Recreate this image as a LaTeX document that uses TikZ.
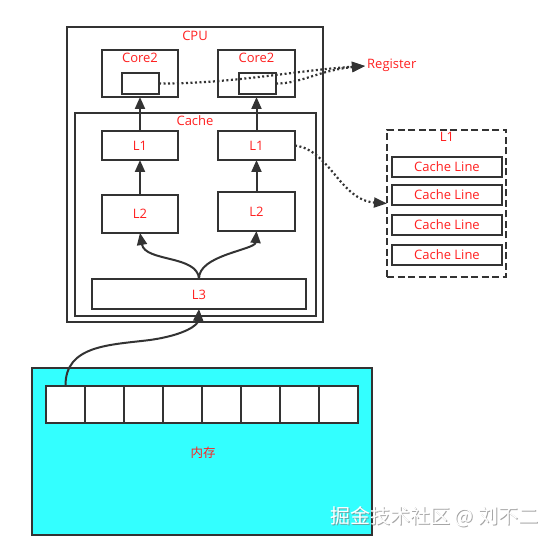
\documentclass[tikz,border=0pt]{standalone}
\usepackage{fontspec}
\setmainfont{Open Sans}
\newfontfamily\cjk{Noto Sans CJK SC}
\usetikzlibrary{arrows.meta}
\definecolor{txtred}{HTML}{FF2020}
\definecolor{memcyan}{HTML}{33FFFF}
\definecolor{edge}{HTML}{333333}
\begin{document}
\begin{tikzpicture}[x=1pt,y=-1pt,
  box/.style={draw=edge,line width=1.8pt,fill=white,inner sep=0pt,outer sep=0pt},
  lbl/.style={text=txtred,font=\fontsize{13}{15}\selectfont,inner sep=0pt},
  arr/.style={draw=edge,line width=2pt,-{Triangle[length=12pt,width=10pt]}},
  dotarr/.style={draw=edge,line width=2.2pt,dash pattern=on 2pt off 2.5pt,-{Triangle[length=13pt,width=10pt]}},
]
\useasboundingbox (0,0) rectangle (560,545);
% CPU
\node[box,minimum width=256pt,minimum height=295pt] (cpu) at (195,174.5) {};
\node[lbl] (cputxt) at (195,36) {CPU};
% Cores
\node[box,minimum width=76pt,minimum height=47pt] (core1) at (140,73.5) {};
\node[lbl] (core1txt) at (140,58) {Core2};
\node[box,minimum width=77pt,minimum height=47pt] (core2) at (256.5,73.5) {};
\node[lbl] (core2txt) at (256.5,58) {Core2};
\node[box,minimum width=37pt,minimum height=21pt] (reg1) at (140.5,83.5) {};
\node[box,minimum width=37pt,minimum height=21pt] (reg2) at (257.5,83.5) {};
% Cache
\node[box,minimum width=241pt,minimum height=203pt] (cache) at (195.5,214.5) {};
\node[lbl] (cachetxt) at (195,121) {Cache};
\node[box,minimum width=76pt,minimum height=29pt] (l1a) at (140,145.5) {};
\node[lbl] (l1atxt) at (140,146) {L1};
\node[box,minimum width=77pt,minimum height=29pt] (l1b) at (256.5,145.5) {};
\node[lbl] (l1btxt) at (256.5,146) {L1};
\node[box,minimum width=76pt,minimum height=38pt] (l2a) at (140,214) {};
\node[lbl] (l2atxt) at (140,214) {L2};
\node[box,minimum width=77pt,minimum height=39pt] (l2b) at (256.5,211.5) {};
\node[lbl] (l2btxt) at (256.5,211.5) {L2};
\node[box,minimum width=214pt,minimum height=30pt] (l3) at (199,294) {};
\node[lbl] (l3txt) at (199,294.5) {L3};
% arrows inside
\draw[arr] (l1a.north) -- (core1.south);
\draw[arr] (l1b.north) -- (core2.south);
\draw[arr] (l2a.north) -- (l1a.south);
\draw[arr] (l2b.north) -- (l1b.south);
\draw[arr] (l3.north) .. controls (198,255) and (145,262) .. (l2a.south);
\draw[arr] (l3.north) .. controls (198,255) and (255,250) .. (l2b.south);
% Register
\node[lbl,anchor=west] (regtxt) at (367,65) {Register};
\coordinate (regtip) at (365,66);
\draw[dotarr] (reg1.east) .. controls (230,84) and (300,70) .. (regtip);
\draw[dotarr] (reg2.east) .. controls (300,84) and (320,70) .. (regtip);
% L1 detail
\node[box,dash pattern=on 7pt off 3.5pt,minimum width=119pt,minimum height=147pt] (l1d) at (446.5,203.5) {};
\node[lbl] (l1dtxt) at (447,137) {L1};
\node[box,minimum width=110pt,minimum height=20pt] (cl1) at (447,167) {};
\node[lbl] (cl1t) at (447,167) {Cache Line};
\node[box,minimum width=110pt,minimum height=20pt] (cl2) at (447,195) {};
\node[lbl] (cl2t) at (447,195) {Cache Line};
\node[box,minimum width=110pt,minimum height=20pt] (cl3) at (447,225) {};
\node[lbl] (cl3t) at (447,225) {Cache Line};
\node[box,minimum width=110pt,minimum height=20pt] (cl4) at (447,255) {};
\node[lbl] (cl4t) at (447,255) {Cache Line};
\draw[dotarr] (l1b.east) .. controls (330,150) and (340,200) .. (l1d.west);
% Memory
\node[draw=edge,line width=1.8pt,fill=memcyan,minimum width=340pt,minimum height=167pt,inner sep=0pt] (mem) at (202,451.5) {};
\foreach \i in {0,...,7}{
  \node[box,minimum width=39pt,minimum height=37pt] (m\i) at ({65.5+39*\i},404.5) {};
}
\node[text=txtred,font=\cjk\fontsize{12.5}{14}\selectfont,inner sep=0pt] (memtxt) at (203,453) {内存};
\draw[arr] (m0.north) .. controls (65,345) and (110,345) .. (150,340) .. controls (185,335) and (198,325) .. (l3.south);
% watermark
\node[text=gray,font=\cjk\fontsize{20}{22}\selectfont,inner sep=0pt,anchor=west,opacity=0.7] (wm2) at (331,518) {掘金技术社区 @ 刘不二};
\node[text=white,font=\cjk\fontsize{20}{22}\selectfont,inner sep=0pt,anchor=west] (wm) at (330,517) {掘金技术社区 @ 刘不二};
\end{tikzpicture}
\end{document}
